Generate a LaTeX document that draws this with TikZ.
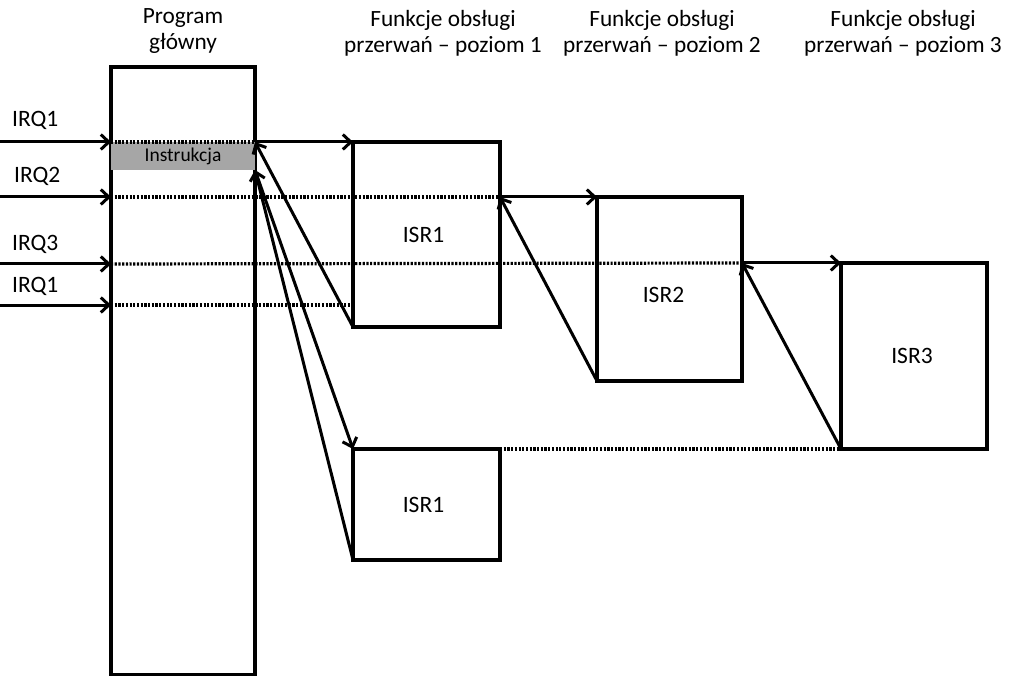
\documentclass[tikz,border=0pt]{standalone}
\usepackage{fontspec}
\setmainfont{Carlito}
\usetikzlibrary{arrows.meta}
\begin{document}
\begin{tikzpicture}[x=1pt,y=-1pt,
  box/.style={draw,line width=3.2pt,inner sep=0pt,outer sep=0pt,anchor=north west},
  lbl/.style={font=\fontsize{23.5}{26}\selectfont,inner sep=0pt},
  title/.style={font=\fontsize{23.3}{26}\selectfont,align=center,inner sep=0pt},
  arr/.style={line width=3pt,-{Straight Barb[length=8pt,width=15pt]}},
  dots/.style={line width=3.2pt,dash pattern=on 2.2pt off 1.5pt}]
\useasboundingbox (0,0) rectangle (1009,676);
% boxes
\node[box,minimum width=144pt,minimum height=608pt] (main) at (111,67) {};
\node[fill={rgb,255:red,166;green,166;blue,166},inner sep=0pt,outer sep=0pt,anchor=north west,minimum width=144pt,minimum height=28pt,font=\fontsize{19.5}{22}\selectfont] (instr) at (111,142) {Instrukcja};
\node[box,minimum width=147pt,minimum height=185pt] (isr1a) at (353,142) {};
\node[box,minimum width=145pt,minimum height=184pt] (isr2) at (597,197) {};
\node[box,minimum width=146pt,minimum height=186pt] (isr3) at (841,263) {};
\node[box,minimum width=147pt,minimum height=111pt] (isr1b) at (353,449) {};
\node[lbl] (t1a) at ([xshift=-3pt]isr1a.center) {ISR1};
\node[lbl] (t2) at ([xshift=-6pt,yshift=-6pt]isr2.center) {ISR2};
\node[lbl] (t3) at ([xshift=-2pt]isr3.center) {ISR3};
\node[lbl] (t1b) at ([xshift=-3pt]isr1b.center) {ISR1};
% titles
\node[title] (h0) at (183,31) {Program\\główny};
\node[title] (h1) at (443,33) {Funkcje obsługi\\przerwań – poziom 1};
\node[title] (h2) at (662,33) {Funkcje obsługi\\przerwań – poziom 2};
\node[title] (h3) at (903,33) {Funkcje obsługi\\przerwań – poziom 3};
% IRQ labels
\node[lbl,anchor=west] (q1) at (12,120) {IRQ1};
\node[lbl,anchor=west] (q2) at (14,176) {IRQ2};
\node[lbl,anchor=west] (q3) at (12,244) {IRQ3};
\node[lbl,anchor=west] (q4) at (12,286) {IRQ1};
% coordinates
\coordinate (i1) at (0,142);
\coordinate (i2) at (0,197);
\coordinate (i3) at (0,264);
\coordinate (i4) at (0,305);
\coordinate (a2) at (isr1a.east |- isr2.north);
\coordinate (a3) at (isr2.east |- isr3.north);
% incoming arrows
\draw[arr] (i1) -- (i1 -| main.west);
\draw[arr] (i2) -- (i2 -| main.west);
\draw[arr] (i3) -- (i3 -| main.west);
\draw[arr] (i4) -- (i4 -| main.west);
% dotted lines
\draw[dots] (instr.north west) -- (instr.north east);
\draw[dots] (i2 -| main.west) -- (a2);
\draw[dots] (i3 -| main.west) -- (a3);
\draw[dots] (i4 -| main.west) -- (i4 -| isr1a.west);
\draw[dots] (isr1b.north east) -- (isr3.south west);
% calls
\draw[arr] (instr.north east) -- (isr1a.north west);
\draw[arr] (a2) -- (isr2.north west);
\draw[arr] (a3) -- (isr3.north west);
\draw[arr] (instr.south east) -- (isr1b.north west);
% returns
\draw[arr] (isr1a.south west) -- (instr.north east);
\draw[arr] (isr2.south west) -- (a2);
\draw[arr] (isr3.south west) -- (a3);
\draw[arr] (isr1b.south west) -- (instr.south east);
\end{tikzpicture}
\end{document}
